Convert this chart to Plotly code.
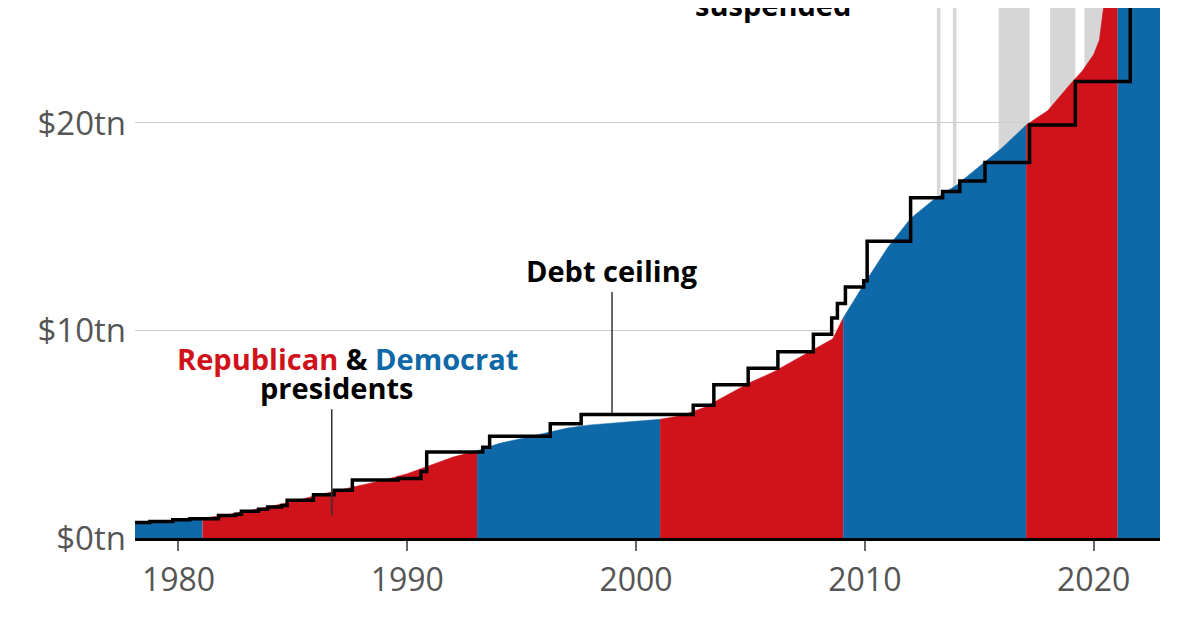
import plotly.graph_objects as go

# US federal debt ($tn), year fractions
debt_year = [1978.0, 1979.0, 1980.0, 1981.05, 1982.0, 1983.0, 1984.0, 1985.0, 1986.0, 1987.0,
             1988.0, 1989.0, 1990.0, 1991.0, 1992.0, 1993.05, 1994.0, 1995.0, 1996.0, 1997.0,
             1998.0, 1999.0, 2000.0, 2001.05, 2002.0, 2003.0, 2004.0, 2005.0, 2006.0, 2007.0,
             2008.0, 2008.6, 2009.05, 2010.0, 2011.0, 2012.0, 2013.0, 2014.0, 2015.0, 2016.0,
             2017.05, 2018.0, 2019.0, 2019.5, 2020.0, 2020.25, 2020.4, 2020.6, 2021.05, 2022.0, 2022.9]
debt_tn = [0.75, 0.8, 0.86, 0.95, 1.1, 1.3, 1.52, 1.75, 2.05, 2.3,
           2.55, 2.8, 3.1, 3.5, 3.9, 4.2, 4.55, 4.8, 5.05, 5.3,
           5.45, 5.55, 5.65, 5.72, 5.9, 6.3, 6.9, 7.5, 8.0, 8.6,
           9.2, 9.6, 10.6, 12.3, 14.0, 15.4, 16.3, 17.0, 17.9, 18.8,
           19.9, 20.6, 21.9, 22.5, 23.3, 24.0, 25.3, 26.8, 27.8, 29.6, 31.4]

# presidential terms: start, end, party
term_start = [1978.0, 1981.05, 1993.05, 2001.05, 2009.05, 2017.05, 2021.05]
term_end = [1981.05, 1993.05, 2001.05, 2009.05, 2017.05, 2021.05, 2022.9]
term_party = ["D", "R", "D", "R", "D", "R", "D"]

# debt ceiling steps ($tn)
ceil_year = [1978.0, 1978.75, 1979.75, 1980.5, 1981.75, 1982.5, 1982.75, 1983.5, 1983.9, 1984.5,
             1984.75, 1985.9, 1986.8, 1987.6, 1989.6, 1990.6, 1990.85, 1993.3, 1993.6, 1996.25,
             1997.6, 2002.5, 2003.4, 2004.9, 2006.2, 2007.75, 2008.55, 2008.8, 2009.15, 2009.95,
             2010.1, 2012.0, 2013.4, 2014.15, 2015.25, 2017.2, 2019.2, 2021.6, 2021.6]
ceil_tn = [0.75, 0.8, 0.88, 0.93, 1.08, 1.14, 1.29, 1.39, 1.49, 1.57,
           1.82, 2.08, 2.3, 2.8, 2.87, 3.2, 4.15, 4.37, 4.9, 5.5,
           5.95, 6.4, 7.38, 8.18, 8.97, 9.82, 10.6, 11.3, 12.1, 12.4,
           14.3, 16.4, 16.7, 17.2, 18.1, 19.9, 22.0, 22.0, 28.9]

# debt ceiling suspended periods
susp_start = [2013.15, 2013.85, 2015.85, 2018.1, 2019.6]
susp_end = [2013.3, 2014.0, 2017.2, 2019.2, 2021.55]

RED = "#d0121b"
BLUE = "#0f68a8"
FONT = "Open Sans"

fig = go.Figure()

for s, e, p in zip(term_start, term_end, term_party):
    xs = [x for x in debt_year if s <= x <= e]
    ys = [y for x, y in zip(debt_year, debt_tn) if s <= x <= e]
    c = RED if p == "R" else BLUE
    fig.add_trace(go.Scatter(x=xs, y=ys, fill="tozeroy", mode="lines",
                             line=dict(color=c, width=0.5), fillcolor=c,
                             showlegend=False, hoverinfo="skip"))

fig.add_trace(go.Scatter(x=ceil_year, y=ceil_tn, mode="lines", line_shape="hv",
                         line=dict(color="black", width=3.5), showlegend=False))

for s, e in zip(susp_start, susp_end):
    fig.add_vrect(x0=s, x1=e, fillcolor="#d6d6d6", line_width=0, layer="below")

# pointers
fig.add_shape(type="line", x0=1986.7, x1=1986.7, y0=1.1, y1=6.2, line=dict(color="#333", width=1.5))
fig.add_shape(type="line", x0=1998.95, x1=1998.95, y0=6.0, y1=11.85, line=dict(color="#333", width=1.5))

bold = dict(size=29, family=FONT, color="black", weight="bold")
fig.add_annotation(x=1987.4, y=8.67, text=f"<span style='color:{RED}'>Republican</span> & "
                   f"<span style='color:{BLUE}'>Democrat</span>", showarrow=False, font=bold)
fig.add_annotation(x=1986.9, y=7.23, text="presidents", showarrow=False, font=bold)
fig.add_annotation(x=1998.95, y=12.9, text="Debt ceiling", showarrow=False, font=bold)
fig.add_annotation(x=2006.0, y=1.0, yref="paper", yanchor="middle", yshift=4, text="suspended",
                   showarrow=False, font=bold)

fig.update_layout(
    width=1196, height=628,
    margin=dict(l=127, r=44, t=0, b=98),
    plot_bgcolor="white", paper_bgcolor="white",
    font=dict(family=FONT, color="#555"),
    xaxis=dict(range=[1978.1, 2022.9], tickvals=[1980, 1990, 2000, 2010, 2020],
               showgrid=False, showline=True, linecolor="black", linewidth=2.5,
               ticks="outside", ticklen=10, tickcolor="#666", tickwidth=1.5,
               tickfont=dict(size=32, color="#555"), ticklabelstandoff=2),
    yaxis=dict(range=[0, 25.54], tickvals=[0, 10, 20], ticktext=["$0tn", "$10tn", "$20tn"],
               showgrid=True, gridcolor="#cccccc", gridwidth=1, zeroline=False,
               tickfont=dict(size=33, color="#555"), ticklabelstandoff=8),
)

fig.write_html("out.html")
